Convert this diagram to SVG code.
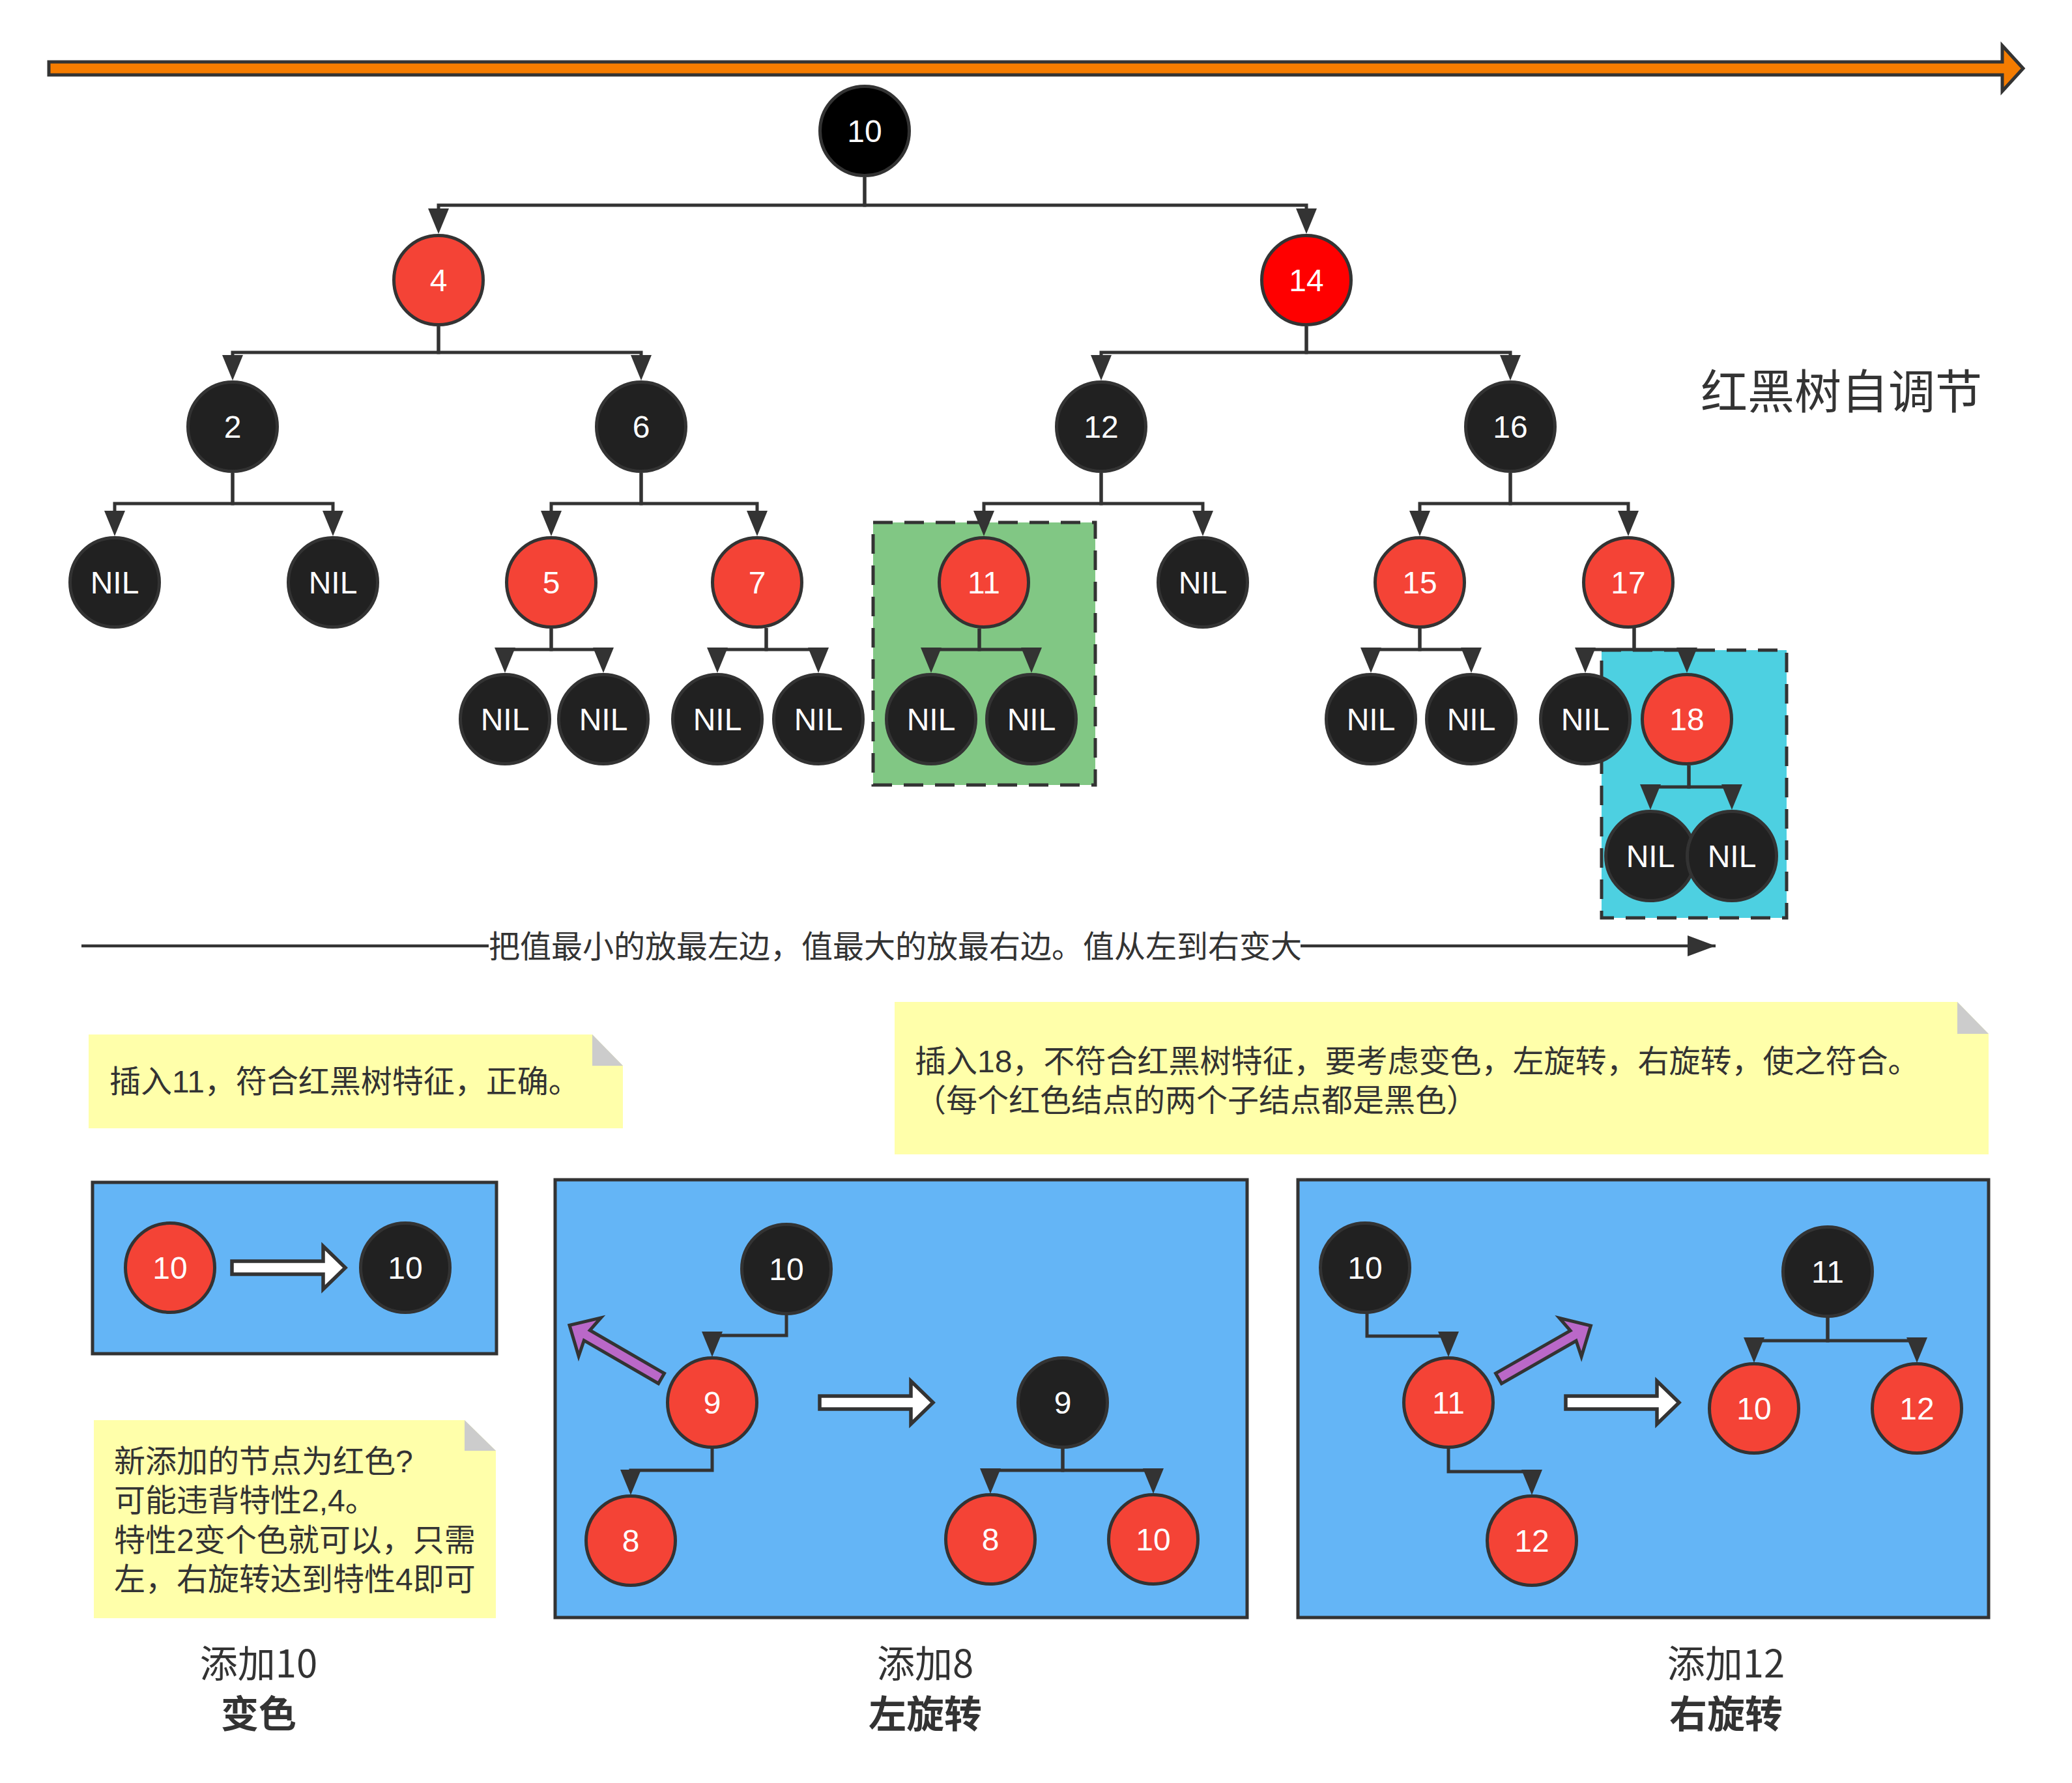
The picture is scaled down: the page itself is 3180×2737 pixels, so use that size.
<svg xmlns="http://www.w3.org/2000/svg" width="3180" height="2737" viewBox="0 0 3180 2737">
<style>
.n circle{stroke:#333;stroke-width:5}
.b circle{fill:#212121}
.r circle{fill:#F44336}
.n text{font-family:"Liberation Sans",Arial,sans-serif;font-size:48px;fill:#fff;text-anchor:middle}
.c path{fill:none;stroke:#333;stroke-width:5;marker-end:url(#ah)}
.t{font-family:"Noto Sans CJK SC","Liberation Sans",sans-serif;fill:#333}
.nt{font-family:"Liberation Sans","Noto Sans CJK SC",sans-serif;fill:#333;font-size:48px}
.note{fill:#FFFFAA}
.fold{fill:#CCCCCC}
.box{fill:#64B5F6;stroke:#333;stroke-width:5}
.hollow{fill:#fff;stroke:#333;stroke-width:5.5}
.purple{fill:#BA68C8;stroke:#333;stroke-width:5;stroke-linejoin:miter}
.dash{stroke:#333;stroke-width:5;stroke-dasharray:30 18}
</style>
<defs>
<marker id="ah" markerUnits="userSpaceOnUse" markerWidth="60" markerHeight="60" refX="19" refY="16" orient="auto" overflow="visible">
<path d="M0,0 L39,16 L0,32 z" fill="#333"/>
</marker>
<marker id="ah2" markerUnits="userSpaceOnUse" markerWidth="60" markerHeight="60" refX="43" refY="16" orient="auto" overflow="visible">
<path d="M0,0 L43,16 L0,32 z" fill="#333"/>
</marker>
<polygon id="hollowArrow" points="0,-10 140,-10 140,-33 174,0 140,33 140,10 0,10"/>
<polygon id="purpleArrow" points="0,-9 132,-9 127,-34 163,0 127,34 132,9 0,9"/>
</defs>
<rect width="3180" height="2737" fill="#fff"/>

<!-- top orange arrow -->
<g id="orange-arrow">
<polygon points="75,95 3073,95 3073,70 3105,105 3073,140 3073,115 75,115" fill="#F57C00" stroke="#333" stroke-width="5"/>
</g>

<!-- highlight boxes -->
<g id="green-box"><rect x="1340" y="802" width="341" height="403" fill="#81C784" class="dash"/></g>
<g id="cyan-box"><rect x="2458" y="998" width="284" height="411" fill="#4DD0E1" class="dash"/></g>

<!-- bottom panels -->
<g id="panel1"><rect class="box" x="142" y="1815" width="620" height="263"/></g>
<g id="panel2"><rect class="box" x="852" y="1811" width="1062" height="672"/></g>
<g id="panel3"><rect class="box" x="1992" y="1811" width="1060" height="672"/></g>

<!-- connectors -->
<g id="connectors" class="c">
<path d="M1327 272 V315 H673 V339"/>
<path d="M1327 272 V315 H2005 V339"/>
<path d="M673 501 V541 H357 V564"/>
<path d="M673 501 V541 H984 V564"/>
<path d="M2005 501 V541 H1690 V564"/>
<path d="M2005 501 V541 H2318 V564"/>
<path d="M357 726 V773 H176 V803"/>
<path d="M357 726 V773 H511 V803"/>
<path d="M984 726 V773 H846 V803"/>
<path d="M984 726 V773 H1162 V803"/>
<path d="M1690 726 V773 H1510 V803"/>
<path d="M1690 726 V773 H1846 V803"/>
<path d="M2318 726 V773 H2179 V803"/>
<path d="M2318 726 V773 H2499 V803"/>
<path d="M846 965 V997 H775 V1013"/>
<path d="M846 965 V997 H926 V1013"/>
<path d="M1176 964 V997 H1101 V1013"/>
<path d="M1176 964 V997 H1256 V1013"/>
<path d="M1503 965 V997 H1429 V1013"/>
<path d="M1503 965 V997 H1583 V1013"/>
<path d="M2179 965 V997 H2104 V1013"/>
<path d="M2179 965 V997 H2258 V1013"/>
<path d="M2508 964 V997 H2433 V1013"/>
<path d="M2508 964 V997 H2589 V1013"/>
<path d="M2592 1175 V1208 H2533 V1223"/>
<path d="M2592 1175 V1208 H2658 V1223"/>
<path d="M1207 2018 V2050 H1093 V2063"/>
<path d="M1093 2223 V2257 H968 V2275"/>
<path d="M1631 2223 V2257 H1520 V2273"/>
<path d="M1631 2223 V2257 H1770 V2273"/>
<path d="M2098 2016 V2051 H2223 V2063"/>
<path d="M2223 2223 V2259 H2351 V2275"/>
<path d="M2805 2022 V2058 H2692 V2072"/>
<path d="M2805 2022 V2058 H2942 V2072"/>
<path d="M125 1452 H750" style="marker-end:none;stroke-width:4.5"/>
<path d="M1996 1452 H2633" style="marker-end:url(#ah2);stroke-width:4.5"/>
</g>

<!-- tree nodes -->
<g id="n10" class="n"><circle cx="1327" cy="201" r="68.5" fill="#000"/><text x="1327" y="218">10</text></g>
<g id="n4" class="n r"><circle cx="673" cy="430" r="68.5"/><text x="673" y="447">4</text></g>
<g id="n14" class="n"><circle cx="2005" cy="430" r="68.5" fill="#FF0000"/><text x="2005" y="447">14</text></g>
<g id="n2" class="n b"><circle cx="357" cy="655" r="68.5"/><text x="357" y="672">2</text></g>
<g id="n6" class="n b"><circle cx="984" cy="655" r="68.5"/><text x="984" y="672">6</text></g>
<g id="n12" class="n b"><circle cx="1690" cy="655" r="68.5"/><text x="1690" y="672">12</text></g>
<g id="n16" class="n b"><circle cx="2318" cy="655" r="68.5"/><text x="2318" y="672">16</text></g>
<g id="nil-2a" class="n b"><circle cx="176" cy="894" r="68.5"/><text x="176" y="911">NIL</text></g>
<g id="nil-2b" class="n b"><circle cx="511" cy="894" r="68.5"/><text x="511" y="911">NIL</text></g>
<g id="n5" class="n r"><circle cx="846" cy="894" r="68.5"/><text x="846" y="911">5</text></g>
<g id="n7" class="n r"><circle cx="1162" cy="894" r="68.5"/><text x="1162" y="911">7</text></g>
<g id="n11" class="n r"><circle cx="1510" cy="894" r="68.5"/><text x="1510" y="911">11</text></g>
<g id="nil-12b" class="n b"><circle cx="1846" cy="894" r="68.5"/><text x="1846" y="911">NIL</text></g>
<g id="n15" class="n r"><circle cx="2179" cy="894" r="68.5"/><text x="2179" y="911">15</text></g>
<g id="n17" class="n r"><circle cx="2499" cy="894" r="68.5"/><text x="2499" y="911">17</text></g>
<g id="nil-5a" class="n b"><circle cx="775" cy="1104" r="68.5"/><text x="775" y="1121">NIL</text></g>
<g id="nil-5b" class="n b"><circle cx="926" cy="1104" r="68.5"/><text x="926" y="1121">NIL</text></g>
<g id="nil-7a" class="n b"><circle cx="1101" cy="1104" r="68.5"/><text x="1101" y="1121">NIL</text></g>
<g id="nil-7b" class="n b"><circle cx="1256" cy="1104" r="68.5"/><text x="1256" y="1121">NIL</text></g>
<g id="nil-11a" class="n b"><circle cx="1429" cy="1104" r="68.5"/><text x="1429" y="1121">NIL</text></g>
<g id="nil-11b" class="n b"><circle cx="1583" cy="1104" r="68.5"/><text x="1583" y="1121">NIL</text></g>
<g id="nil-15a" class="n b"><circle cx="2104" cy="1104" r="68.5"/><text x="2104" y="1121">NIL</text></g>
<g id="nil-15b" class="n b"><circle cx="2258" cy="1104" r="68.5"/><text x="2258" y="1121">NIL</text></g>
<g id="nil-17a" class="n b"><circle cx="2433" cy="1104" r="68.5"/><text x="2433" y="1121">NIL</text></g>
<g id="n18" class="n r"><circle cx="2589" cy="1104" r="68.5"/><text x="2589" y="1121">18</text></g>
<g id="nil-18a" class="n b"><circle cx="2533" cy="1314" r="68.5"/><text x="2533" y="1331">NIL</text></g>
<g id="nil-18b" class="n b"><circle cx="2658" cy="1314" r="68.5"/><text x="2658" y="1331">NIL</text></g>

<g id="title"><text class="t" x="2610" y="627" font-size="72">红黑树自调节</text></g>

<g id="order-label"><text class="t" x="750" y="1470" font-size="48">把值最小的放最左边，值最大的放最右边。值从左到右变大</text></g>

<!-- notes -->
<g id="note1">
<path class="note" d="M136 1588 H909 L956 1636 V1732 H136 Z"/>
<path class="fold" d="M909 1588 L956 1636 H909 Z"/>
<text class="nt" x="168" y="1677">插入11，符合红黑树特征，正确。</text>
</g>
<g id="note2">
<path class="note" d="M1373 1538 H3004 L3052 1587 V1772 H1373 Z"/>
<path class="fold" d="M3004 1538 L3052 1587 H3004 Z"/>
<text class="nt" x="1404" y="1646">插入18，不符合红黑树特征，要考虑变色，左旋转，右旋转，使之符合。</text>
<text class="nt" x="1404" y="1706">（每个红色结点的两个子结点都是黑色）</text>
</g>
<g id="note3">
<path class="note" d="M144 2180 H713 L761 2227 V2484 H144 Z"/>
<path class="fold" d="M713 2180 L761 2227 H713 Z"/>
<text class="nt" x="175" y="2260">新添加的节点为红色?</text>
<text class="nt" x="175" y="2320">可能违背特性2,4。</text>
<text class="nt" x="175" y="2381">特性2变个色就可以，只需</text>
<text class="nt" x="175" y="2441">左，右旋转达到特性4即可</text>
</g>

<!-- panel 1 content -->
<g id="p1-red10" class="n r"><circle cx="261" cy="1946" r="68.5"/><text x="261" y="1963">10</text></g>
<g id="p1-arrow"><use href="#hollowArrow" class="hollow" transform="translate(356,1946)"/></g>
<g id="p1-black10" class="n b"><circle cx="622" cy="1946" r="68.5"/><text x="622" y="1963">10</text></g>

<!-- panel 2 content -->
<g id="p2-purple"><use href="#purpleArrow" class="purple" transform="translate(1015,2116) rotate(-149.9)"/></g>
<g id="p2-10" class="n b"><circle cx="1207" cy="1948" r="68.5"/><text x="1207" y="1965">10</text></g>
<g id="p2-9" class="n r"><circle cx="1093" cy="2153" r="68.5"/><text x="1093" y="2170">9</text></g>
<g id="p2-8" class="n r"><circle cx="968" cy="2365" r="68.5"/><text x="968" y="2382">8</text></g>
<g id="p2-arrow"><use href="#hollowArrow" class="hollow" transform="translate(1258,2153)"/></g>
<g id="p2-9b" class="n b"><circle cx="1631" cy="2153" r="68.5"/><text x="1631" y="2170">9</text></g>
<g id="p2-8b" class="n r"><circle cx="1520" cy="2363" r="68.5"/><text x="1520" y="2380">8</text></g>
<g id="p2-10b" class="n r"><circle cx="1770" cy="2363" r="68.5"/><text x="1770" y="2380">10</text></g>

<!-- panel 3 content -->
<g id="p3-purple"><use href="#purpleArrow" class="purple" transform="translate(2300,2116) rotate(-29.8)"/></g>
<g id="p3-10" class="n b"><circle cx="2095" cy="1946" r="68.5"/><text x="2095" y="1963">10</text></g>
<g id="p3-11" class="n r"><circle cx="2223" cy="2153" r="68.5"/><text x="2223" y="2170">11</text></g>
<g id="p3-12" class="n r"><circle cx="2351" cy="2365" r="68.5"/><text x="2351" y="2382">12</text></g>
<g id="p3-arrow"><use href="#hollowArrow" class="hollow" transform="translate(2403,2153)"/></g>
<g id="p3-11b" class="n b"><circle cx="2805" cy="1952" r="68.5"/><text x="2805" y="1969">11</text></g>
<g id="p3-10b" class="n r"><circle cx="2692" cy="2162" r="68.5"/><text x="2692" y="2179">10</text></g>
<g id="p3-12b" class="n r"><circle cx="2942" cy="2162" r="68.5"/><text x="2942" y="2179">12</text></g>

<!-- captions -->
<g id="cap1" class="t" text-anchor="middle" font-size="58">
<text x="397" y="2575">添加10</text>
<text x="397" y="2652" font-weight="bold">变色</text>
</g>
<g id="cap2" class="t" text-anchor="middle" font-size="58">
<text x="1420" y="2575">添加8</text>
<text x="1420" y="2652" font-weight="bold">左旋转</text>
</g>
<g id="cap3" class="t" text-anchor="middle" font-size="58">
<text x="2649" y="2575">添加12</text>
<text x="2649" y="2652" font-weight="bold">右旋转</text>
</g>
</svg>
